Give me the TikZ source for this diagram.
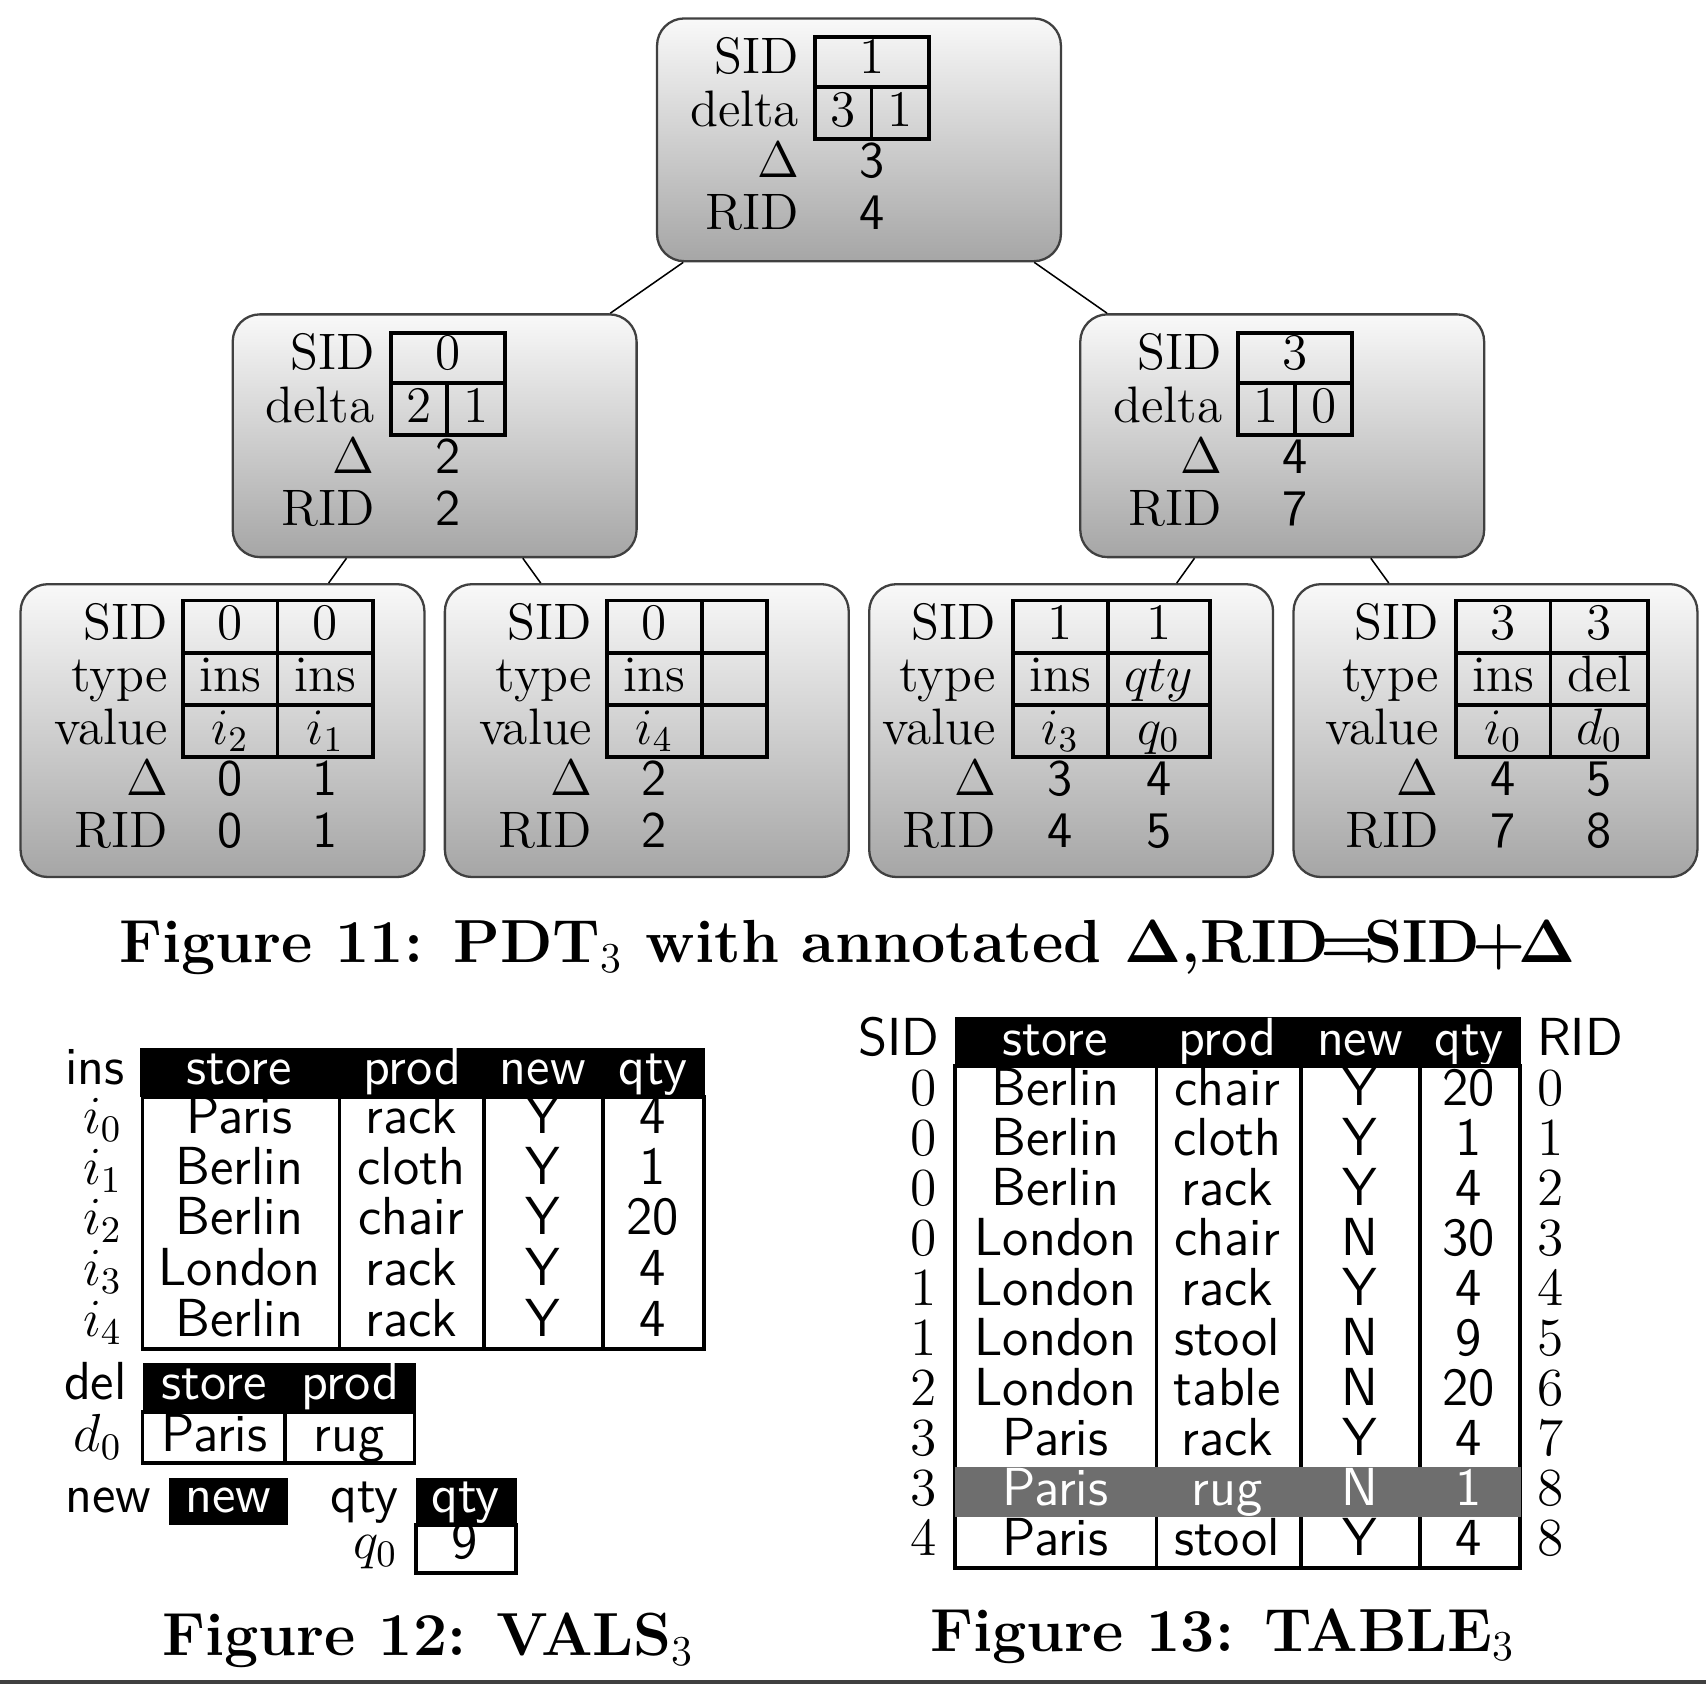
\RequirePackage{fix-cm}
\documentclass[tikz,border=0pt]{standalone}
\usepackage{amsmath}

\newcommand\tsz{\fontsize{13.4}{16}\selectfont}
\newcommand\ssz{\fontsize{14}{17}\selectfont\sffamily}
\newcommand\rsz{\fontsize{14}{17}\selectfont}
\newcommand\csz{\fontsize{15.9}{19}\selectfont\bfseries\boldmath}
\newcommand\capsub[1]{\textsubscript{\normalfont #1}}

\tikzset{
	treebox/.style={draw=black!75, line width=0.6pt, rounded corners=0.25cm, top color=gray!5, bottom color=gray!70, minimum width=3.71cm},
	lbl/.style={anchor=base east, inner sep=0pt, font=\tsz},
	val/.style={anchor=base, inner sep=0pt, font=\tsz},
	sval/.style={anchor=base, inner sep=0pt, font=\tsz\sffamily},
	cell/.style={anchor=base, inner sep=0pt, font=\ssz},
	hcell/.style={cell, text=white},
	rcell/.style={anchor=base, inner sep=0pt, font=\rsz},
	figcap/.style={anchor=base, inner sep=0pt, font=\csz},
	grid/.style={line width=1pt},
}

\begin{document}
\begin{tikzpicture}[x=0.01cm,y=-0.01cm]
		\useasboundingbox (0,0) rectangle (1568,1548);
		
		% the tree
		\node[treebox, minimum height=2.23cm] (root) at (789.5,128.5) {};
		\node[treebox, minimum height=2.23cm] (left) at (399.5,400.5) {};
		\node[treebox, minimum height=2.23cm] (right) at (1178.5,400.5) {};
		\node[treebox, minimum height=2.69cm] (leafa) at (204.5,671.5) {};
		\node[treebox, minimum height=2.69cm] (leafb) at (594.5,671.5) {};
		\node[treebox, minimum height=2.69cm] (leafc) at (984.5,671.5) {};
		\node[treebox, minimum height=2.69cm] (leafd) at (1374.5,671.5) {};
		
		\draw (root) -- (left);
		\draw (root) -- (right);
		\draw (left) -- (leafa);
		\draw (left) -- (leafb);
		\draw (right) -- (leafc);
		\draw (right) -- (leafd);
		
		% inner nodes
		\foreach \bx/\by/\s/\da/\db/\dl/\r [count=\k] in {604/17/1/3/1/3/4, 214/289/0/2/1/2/2, 993/289/3/1/0/4/7}{
			\begin{scope}[shift={(\bx,\by)}]
				\node[lbl] (nsid\k) at (131,51) {SID};
				\node[lbl] (ndelta\k) at (131,99) {delta};
				\node[lbl] (nd\k) at (131,146) {$\Delta$};
				\node[lbl] (nrid\k) at (131,194) {RID};
				\draw[grid] (145,17) rectangle (250,111) (145,63) -- (250,63) (197,63) -- (197,111);
				\node[val] (vs\k) at (197.5,51) {\s};
				\node[val] (vda\k) at (171,99) {\da};
				\node[val] (vdb\k) at (223.5,99) {\db};
				\node[sval] (vd\k) at (197.5,146) {\dl};
				\node[sval] (vr\k) at (197.5,194) {\r};
			\end{scope}
		}
		
		% leaves
		\foreach \la/\ga/\gb/\gc/\sa/\sb/\ta/\tb/\va/\vb/\xa/\xb/\ra/\rb [count=\k] in {
			155/168/255/343/0/0/ins/ins/$i_2$/$i_1$/0/1/0/1,
			545/558/645/705/0//ins//$i_4$//2//2/,
			916/931/1018/1112/1/1/ins/$qty$/$i_3$/$q_0$/3/4/4/5,
			1323/1338/1425/1515/3/3/ins/del/$i_0$/$d_0$/4/5/7/8}{
			\node[lbl] (lsid\k) at (\la,588) {SID};
			\node[lbl] (ltype\k) at (\la,636) {type};
			\node[lbl] (lval\k) at (\la,684) {value};
			\node[lbl] (ld\k) at (\la,731) {$\Delta$};
			\node[lbl] (lrid\k) at (\la,779) {RID};
			\draw[grid] (\ga,552) rectangle (\gc,696) (\ga,600) -- (\gc,600) (\ga,648) -- (\gc,648) (\gb,552) -- (\gb,696);
			\node[val] (sa\k) at ({(\ga+\gb)/2},588) {\sa};
			\node[val] (sb\k) at ({(\gb+\gc)/2},588) {\sb};
			\node[val] (ta\k) at ({(\ga+\gb)/2},636) {\ta};
			\node[val] (tb\k) at ({(\gb+\gc)/2},636) {\tb};
			\node[val] (va\k) at ({(\ga+\gb)/2},684) {\va};
			\node[val] (vb\k) at ({(\gb+\gc)/2},684) {\vb};
			\node[sval] (xa\k) at ({(\ga+\gb)/2},731) {\xa};
			\node[sval] (xb\k) at ({(\gb+\gc)/2},731) {\xb};
			\node[sval] (ra\k) at ({(\ga+\gb)/2},779) {\ra};
			\node[sval] (rb\k) at ({(\gb+\gc)/2},779) {\rb};
		}
		
		\node[figcap] (cap11) at (779,885) {Figure 11: PDT\capsub{3} with annotated $\Delta$,RID\kern-.15em=\kern-.15em SID\kern-.12em+\kern-.12em$\Delta$};
		
		% VALS: ins
		\node[cell, anchor=base east] (ins) at (115,997) {ins};
		\fill (129,963) rectangle (648,1008);
		\foreach \t/\x [count=\k] in {store/220,prod/379,new/499,qty/600}
			\node[hcell] (ih\k) at (\x,997) {\t};
		\draw[grid] (131,1008) rectangle (647,1240) (312,1008) -- (312,1240) (445,1008) -- (445,1240) (554,1008) -- (554,1240);
		\foreach \s/\p/\n/\q [count=\k from 0] in {Paris/rack/Y/4, Berlin/cloth/Y/1, Berlin/chair/Y/20, London/rack/Y/4, Berlin/rack/Y/4}{
			\node[rcell, anchor=base east] (i\k) at (113,{1042+46.5*\k}) {$i_{\k}$};
			\node[cell] (is\k) at (220,{1042+46.5*\k}) {\s};
			\node[cell] (ip\k) at (378,{1042+46.5*\k}) {\p};
			\node[cell] (in\k) at (499,{1042+46.5*\k}) {\n};
			\node[cell] (iq\k) at (600,{1042+46.5*\k}) {\q};
		}
		
		% VALS: del
		\node[cell, anchor=base east] (del) at (117,1286) {del};
		\fill (131,1253) rectangle (382,1298);
		\node[hcell] (dh1) at (197,1286) {store};
		\node[hcell] (dh2) at (322,1286) {prod};
		\draw[grid] (131,1298) rectangle (381,1345) (262,1298) -- (262,1345);
		\node[rcell, anchor=base east] (d0) at (113,1334) {$d_0$};
		\node[cell] (ds0) at (197,1334) {Paris};
		\node[cell] (dp0) at (321,1334) {rug};
		
		% VALS: new, qty
		\node[cell, anchor=base east] (new) at (140,1390) {new};
		\fill (155,1358) rectangle (265,1402);
		\node[hcell] (nh) at (210,1390) {new};
		\node[cell, anchor=base east] (qty) at (367,1390) {qty};
		\fill (382,1358) rectangle (475,1402);
		\node[hcell] (qh) at (428,1390) {qty};
		\draw[grid] (382,1402) rectangle (474,1446);
		\node[rcell, anchor=base east] (q0) at (366,1432) {$q_0$};
		\node[cell] (qv0) at (427,1432) {9};
		
		\node[figcap] (cap12) at (394,1522) {Figure 12: VALS\capsub{3}};
		
		% TABLE
		\node[cell, anchor=base east] (sid) at (864,970) {SID};
		\node[cell, anchor=base west] (rid) at (1412,970) {RID};
		\fill (878,935) rectangle (1398,980);
		\foreach \t/\x [count=\k] in {store/970,prod/1128,new/1250,qty/1350}
			\node[hcell] (th\k) at (\x,970) {\t};
		\draw[grid] (878,980) rectangle (1397,1441) (1063,980) -- (1063,1441) (1196,980) -- (1196,1441) (1305,980) -- (1305,1441);
		\fill[black!57] (878,1348) rectangle (1398,1394);
		\foreach \si/\s/\p/\n/\q/\ri [count=\k from 0] in {0/Berlin/chair/Y/20/0, 0/Berlin/cloth/Y/1/1, 0/Berlin/rack/Y/4/2, 0/London/chair/N/30/3, 1/London/rack/Y/4/4, 1/London/stool/N/9/5, 2/London/table/N/20/6, 3/Paris/rack/Y/4/7, 3/Paris/rug/N/1/8, 4/Paris/stool/Y/4/8}{
			\ifnum\k=8 \tikzset{cell/.append style={text=white}}\fi
			\node[rcell, anchor=base east] (ts\k) at (862,{1016+46*\k}) {\si};
			\node[cell] (tst\k) at (970,{1016+46*\k}) {\s};
			\node[cell] (tp\k) at (1128,{1016+46*\k}) {\p};
			\node[cell] (tn\k) at (1250,{1016+46*\k}) {\n};
			\node[cell] (tq\k) at (1350,{1016+46*\k}) {\q};
			\node[rcell, anchor=base west] (tr\k) at (1412,{1016+46*\k}) {\ri};
		}
		
		\node[figcap] (cap13) at (1124,1518) {Figure 13: TABLE\capsub{3}};
		
		\draw[black!75, line width=1pt] (0,1546) -- (1568,1546);
	\end{tikzpicture}
\end{document}
